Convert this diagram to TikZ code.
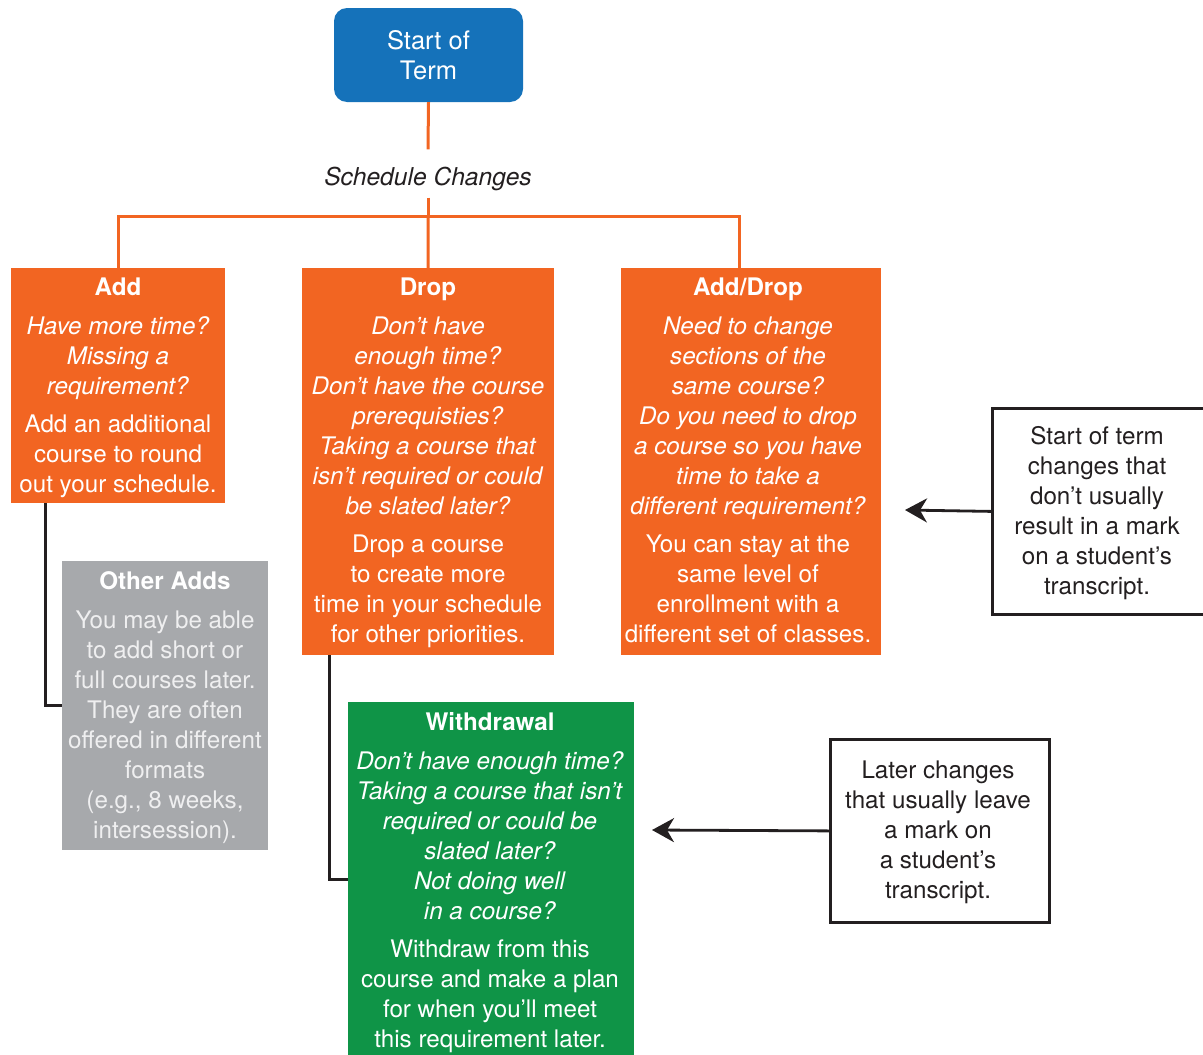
\documentclass[tikz,border=0pt]{standalone}
\usepackage{fontspec}
\setmainfont{TeX Gyre Heros}
\usetikzlibrary{arrows.meta}
\definecolor{orng}{HTML}{F26522}
\definecolor{blu}{HTML}{1572BA}
\definecolor{grn}{HTML}{0F9447}
\definecolor{gry}{HTML}{A7A9AC}
\definecolor{ink}{HTML}{231F20}
\definecolor{pale}{HTML}{EFEFF0}
\tikzset{
  fillbox/.style={draw=none, inner sep=0pt, anchor=north west},
  txt/.style={align=center, inner sep=0pt, anchor=north, font=\fontsize{24.2}{30}\selectfont},
  oline/.style={draw=orng, line width=3pt},
  kline/.style={draw=ink, line width=3pt},
  notebox/.style={draw=ink, line width=2.8pt, fill=white, inner sep=0pt, anchor=north west},
  arr/.style={draw=ink, line width=2.8pt, -{Stealth[length=22pt, width=24pt, inset=7pt]}}
}
\begin{document}
\begin{tikzpicture}[x=1pt, y=-1pt]
\useasboundingbox (0,0) rectangle (1203,1055);

% start node
\node[fill=blu, rounded corners=13pt, minimum width=189pt, minimum height=94pt, inner sep=0pt,
      text=white, align=center, font=\fontsize{25.5}{30}\selectfont] (start) at (428.5,55) {Start of\\Term};

\node[anchor=base, text=ink, font=\fontsize{24.6}{30}\selectfont\itshape, text height=23pt, text depth=0pt, inner ysep=12.4pt, inner xsep=0pt] (sched) at (428,185) {Schedule Changes};

% boxes
\node[fillbox, fill=orng, minimum width=214pt, minimum height=235pt] (add) at (11,268) {};
\node[fillbox, fill=orng, minimum width=252pt, minimum height=387pt] (drop) at (302,268) {};
\node[fillbox, fill=orng, minimum width=260pt, minimum height=387pt] (adddrop) at (621,268) {};
\node[fillbox, fill=gry, minimum width=206pt, minimum height=289pt] (other) at (62,561) {};
\node[fillbox, fill=grn, minimum width=286pt, minimum height=355pt] (withdraw) at (348,702) {};
\node[notebox, minimum width=212pt, minimum height=206pt] (note1) at (991,407) {};
\node[notebox, minimum width=219pt, minimum height=183pt] (note2) at (829,738) {};

% texts
\node[txt, text=white] (addtxt) at (118,278) {\textbf{Add}\\[9pt]
  \textit{Have more time?}\\ \textit{Missing a}\\ \textit{requirement?}\\[8pt]
  Add an additional\\ course to round\\ out your schedule.};
\node[txt, text=white] (droptxt) at (428,278) {\textbf{Drop}\\[9pt]
  \textit{Don’t have}\\ \textit{enough time?}\\ \textit{Don’t have the course}\\ \textit{prerequisties?}\\
  \textit{Taking a course that}\\ \textit{isn’t required or could}\\ \textit{be slated later?}\\[8pt]
  Drop a course\\ to create more\\ time in your schedule\\ for other priorities.};
\node[txt, text=white] (adddroptxt) at (748,278) {\textbf{Add/Drop}\\[9pt]
  \textit{Need to change}\\ \textit{sections of the}\\ \textit{same course?}\\ \textit{Do you need to drop}\\
  \textit{a course so you have}\\ \textit{time to take a}\\ \textit{different requirement?}\\[8pt]
  You can stay at the\\ same level of\\ enrollment with a\\ different set of classes.};
\node[txt, text=pale] (othertxt) at (165,571) {\textcolor{white}{\textbf{Other Adds}}\\[9pt]
  You may be able\\ to add short or\\ full courses later.\\ They are often\\ offered in different\\
  formats\\ (e.g., 8 weeks,\\ intersession).};
\node[txt, text=white] (withdrawtxt) at (490,712) {\textbf{Withdrawal}\\[9pt]
  \textit{Don’t have enough time?}\\ \textit{Taking a course that isn’t}\\ \textit{required or could be}\\
  \textit{slated later?}\\ \textit{Not doing well}\\ \textit{in a course?}\\[8pt]
  Withdraw from this\\ course and make a plan\\ for when you’ll meet\\ this requirement later.};
\node[txt, text=ink] (note1txt) at (1097,426) {Start of term\\ changes that\\ don’t usually\\ result in a mark\\ on a student’s\\ transcript.};
\node[txt, text=ink] (note2txt) at (938,761) {Later changes\\ that usually leave\\ a mark on\\ a student’s\\ transcript.};

% connectors
\coordinate (bar) at (428,216);
\coordinate (adtop) at (739,268);
\draw[oline] (start.south) -- (sched.north);
\draw[oline] (sched.south) -- (bar);
\draw[oline] (add.north) |- (bar) -| (adtop);
\draw[oline] (bar) -- (drop.north);
\draw[kline] ([xshift=34pt]add.south west) |- (other.west);
\draw[kline] ([xshift=27pt]drop.south west) |- (withdraw.west);
\coordinate (tip1) at (905,510);
\coordinate (tip2) at (652,830);
\draw[arr] (note1.west) -- (tip1);
\draw[arr] (note2.west) -- (tip2);
\end{tikzpicture}
\end{document}
